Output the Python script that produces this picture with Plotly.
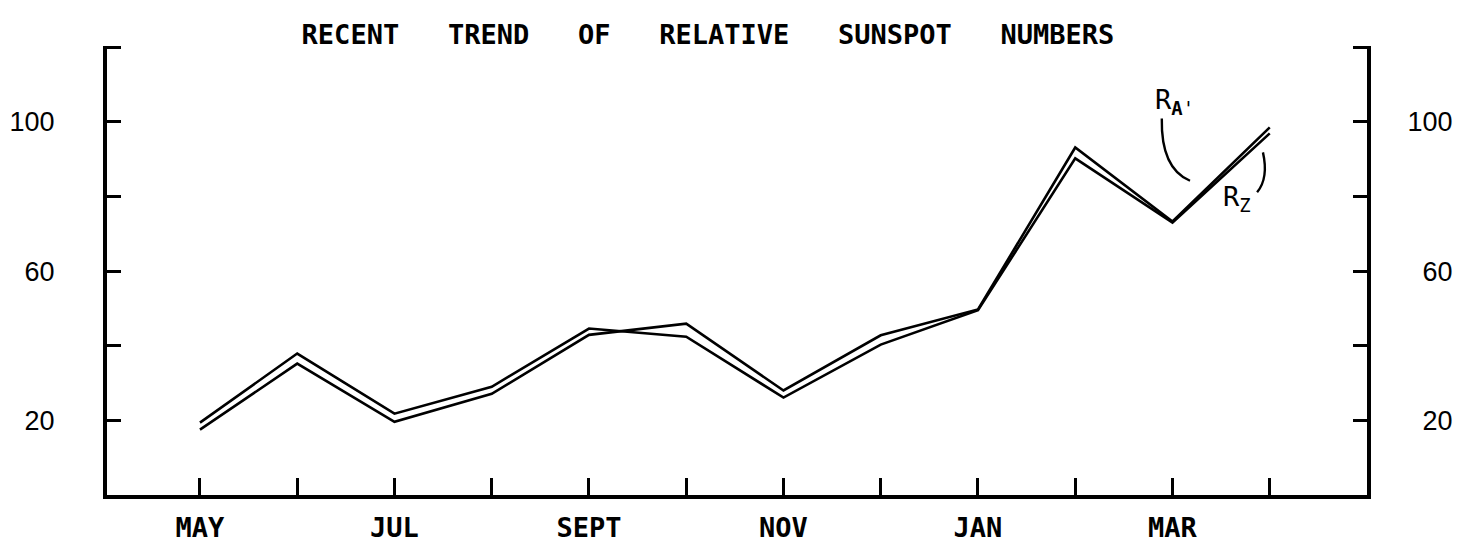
import plotly.graph_objects as go

# ---- data ----
months = ["MAY", "JUN", "JUL", "AUG", "SEPT", "OCT", "NOV", "DEC", "JAN", "FEB", "MAR", "APR"]
labeled_months = ["MAY", "JUL", "SEPT", "NOV", "JAN", "MAR"]
r_a_prime = [17.5, 35.2, 19.6, 27.1, 42.9, 45.9, 28.0, 42.8, 49.7, 93.1, 73.3, 98.5]
r_z = [19.4, 37.9, 21.8, 29.0, 44.6, 42.4, 26.1, 40.3, 49.5, 90.2, 73.0, 96.9]
y_labeled = [20, 60, 100]
y_unlabeled = [40, 80, 120]
y_ticktext_left = ["20", "60", "100"]
y_ticktext_right = ["\u00a0\u00a020", "\u00a0\u00a060", "100"]
title_words = ["RECENT", "TREND", "OF", "RELATIVE", "SUNSPOT", "NUMBERS"]

x_idx = list(range(len(months)))
x_major = [months.index(m) for m in labeled_months]
x_minor = [i for i in x_idx if i not in x_major]

MONO = "DejaVu Sans Mono"
LET = "Liberation Sans"

fig = go.Figure()
fig.add_trace(go.Scatter(x=x_idx, y=r_a_prime, mode="lines", name="R_A'",
                         line=dict(color="black", width=2.6), yaxis="y"))
fig.add_trace(go.Scatter(x=x_idx, y=r_z, mode="lines", name="R_Z",
                         line=dict(color="black", width=2.6), yaxis="y2"))

W, H = 1458, 546
ml, mr, mt, mb = 107, 91, 46, 51

tick_common = dict(ticks="inside", tickwidth=3, tickcolor="black")
sep = "\u00a0" * 3

fig.update_layout(
    width=W, height=H,
    margin=dict(l=ml, r=mr, t=mt, b=mb, pad=0, autoexpand=False),
    paper_bgcolor="white", plot_bgcolor="white",
    showlegend=False,
    title=dict(text=sep.join(title_words), xref="paper", yref="container",
               x=(708 - ml) / (W - ml - mr), y=1 - 35 / H,
               xanchor="center", yanchor="middle",
               font=dict(family=MONO, size=27, color="black", weight="bold")),
    xaxis=dict(range=[-0.956, 12.0], tickmode="array", tickvals=x_major, ticktext=labeled_months,
               automargin=False,
               showgrid=False, zeroline=False, showline=True, linecolor="black", linewidth=4,
               ticklen=17, **tick_common,
               minor=dict(tickmode="array", tickvals=x_minor, ticklen=17, **tick_common),
               ticklabelstandoff=6,
               tickfont=dict(family=MONO, size=27, color="black", weight="bold")),
    yaxis=dict(range=[0, 120.3], tickmode="array", tickvals=y_labeled, ticktext=y_ticktext_left,
               automargin=False,
               showgrid=False, zeroline=False, showline=True, linecolor="black", linewidth=4,
               ticklen=14, **tick_common,
               minor=dict(tickmode="array", tickvals=y_unlabeled, ticklen=14, **tick_common),
               ticklabelstandoff=43,
               tickfont=dict(family=LET, size=27, color="black")),
    yaxis2=dict(range=[0, 120.3], overlaying="y", side="right", tickmode="array",
                tickvals=y_labeled, ticktext=y_ticktext_right, automargin=False,
                showgrid=False, zeroline=False, showline=True, linecolor="black", linewidth=4,
                ticklen=14, **tick_common,
                minor=dict(tickmode="array", tickvals=y_unlabeled, ticklen=14, **tick_common),
                ticklabelstandoff=31,
                tickfont=dict(family=LET, size=27, color="black")),
)

# series labels
fig.add_annotation(text="R<sub><b>A</b>'</sub>", x=9.80, y=105.5, xref="x", yref="y",
                   xanchor="left", yanchor="middle", showarrow=False,
                   font=dict(family=MONO, size=27, color="black"))
fig.add_annotation(text="R<sub>Z</sub>", x=10.50, y=79.5, xref="x", yref="y",
                   xanchor="left", yanchor="middle", showarrow=False,
                   font=dict(family=MONO, size=27, color="black"))

# leader curves
fig.add_shape(type="path", xref="x", yref="y",
              path="M 9.89,100.9 Q 9.88,87.5 10.18,84.2",
              line=dict(color="black", width=2.4))
fig.add_shape(type="path", xref="x", yref="y",
              path="M 10.93,91.8 Q 10.99,84.9 10.87,81.1",
              line=dict(color="black", width=2.4))

fig.write_html("out.html", config={"displayModeBar": False},
               post_script="document.body.style.margin='0';document.body.style.overflow='hidden';")
